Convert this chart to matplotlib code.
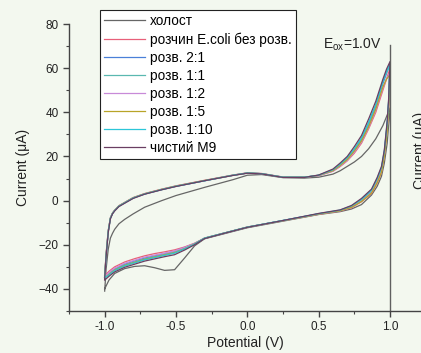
import matplotlib
matplotlib.use("Agg")
from matplotlib import pyplot as plt
from matplotlib.ticker import MultipleLocator

plt.rcParams['font.family'] = ['Liberation Sans', 'DejaVu Sans']
plt.rcParams['mathtext.fontset'] = 'custom'
plt.rcParams['mathtext.rm'] = 'Liberation Sans'

# potential (V): anodic sweep -1.0 -> 1.0, then cathodic sweep 1.0 -> -1.0
E_fwd = [-1.0, -0.99, -0.975, -0.96, -0.945, -0.93, -0.9, -0.86, -0.8, -0.72, -0.6, -0.5, -0.3, -0.1, 0.0,
         0.1, 0.25, 0.4, 0.5, 0.6, 0.65, 0.7, 0.75, 0.8, 0.85, 0.9, 0.95, 0.975, 1.0]
E_rev = [0.995, 0.99, 0.98, 0.96, 0.94, 0.91, 0.87, 0.8, 0.73, 0.65, 0.5, 0.25, 0.0, -0.15, -0.3, -0.37,
         -0.44, -0.51, -0.58, -0.65, -0.72, -0.79, -0.86, -0.93, -0.97, -1.0]
potential = E_fwd + E_rev

labels = ["холост", "розчин E.coli без розв.", "розв. 2:1", "розв. 1:1",
          "розв. 1:2", "розв. 1:5", "розв. 1:10", "чистий M9"]
colors = ["#666666", "#e8607a", "#4a80d8", "#5ab8b0", "#c88ad8", "#b8a428",
          "#2cc6d8", "#6a3e62"]

# current (uA), one list per curve, same order as potential (forward line, then reverse line)
holost = [-41, -31, -22, -17, -14.8, -13, -10.5, -8.5, -6, -3, 0, 2.3, 6, 9.5, 11.5, 11.8, 10.4, 10.2, 10.6, 12, 13.5, 15.5, 17.5, 20, 23.5, 28, 34, 38, 42,
          37, 34, 26, 17, 11, 6.5, 2.5, -1.8, -3.8, -5, -6.3, -9.3, -12.3, -14.8, -17.3, -20.5, -26, -31.3, -31.6, -30.4, -29.5, -29.8, -30.8, -33, -36, -40]
ecoli = [-34, -24, -13.5, -7.8, -5.6, -4.3, -2.3, -0.8, 1.4, 3.2, 5.2, 6.7, 9.2, 11.6, 12.6, 12.3, 10.7, 10.6, 11.3, 13.3, 15.4, 18, 21.5, 26, 32.5, 40, 50, 55, 60,
         51, 42, 33, 20, 12.8, 8, 3.2, -0.5, -3.2, -4.7, -6.2, -9.1, -12, -14.5, -17, -19.3, -21, -22.3, -23.2, -24, -25, -26.3, -27.8, -30, -32, -34]
r2_1 = [-35, -25, -14, -8, -5.8, -4.5, -2.5, -1, 1.2, 3, 5, 6.5, 9, 11.5, 12.5, 12.2, 10.6, 10.6, 11.4, 13.6, 15.8, 18.8, 22.5, 27.5, 34, 42.5, 53, 57.5, 62,
        53, 44, 34, 21.5, 14, 9, 4, 0, -2.8, -4.5, -6, -9, -12, -14.5, -17, -19.5, -21.3, -23, -24, -25, -26, -27.3, -28.8, -31, -33, -35]
r1_1 = [-35, -25, -14, -8, -5.8, -4.5, -2.5, -1, 1.2, 3, 5, 6.5, 9, 11.5, 12.5, 12.2, 10.6, 10.6, 11.5, 13.8, 16.1, 19, 23, 28, 35, 43, 54, 58, 61,
        54, 45, 35, 22, 14.5, 9.5, 4.4, 0.3, -2.6, -4.4, -6, -9, -12, -14.5, -17, -19.6, -21.6, -23.4, -24.4, -25.4, -26.4, -27.8, -29.2, -31.3, -33.3, -35]
r1_2 = [-34.5, -24.5, -13.8, -7.9, -5.7, -4.4, -2.4, -0.9, 1.3, 3.1, 5.1, 6.6, 9.1, 11.5, 12.5, 12.2, 10.6, 10.6, 11.3, 13.4, 15.6, 18.2, 22, 26.5, 33, 41, 51, 55, 58,
        50, 42, 32, 20.5, 13.2, 8.5, 3.6, -0.3, -3, -4.6, -6.1, -9.1, -12, -14.5, -17, -19.4, -21.2, -22.8, -23.8, -24.7, -25.6, -27, -28.4, -30.6, -32.6, -34.5]
r1_5 = [-34.5, -24.5, -13.8, -7.9, -5.7, -4.4, -2.4, -0.9, 1.3, 3.1, 5.1, 6.6, 9.1, 11.5, 12.5, 12.2, 10.6, 10.6, 11.4, 13.6, 15.9, 18.6, 22.5, 27, 33.5, 41.5, 51.5, 55, 57,
        49, 41, 31, 20, 12.9, 8.2, 3.4, -0.4, -3, -4.6, -6.1, -9.1, -12, -14.5, -17, -19.6, -21.8, -23.6, -24.6, -25.6, -26.6, -28, -29.4, -31.5, -33.5, -35]
r1_10 = [-35, -25, -14, -8, -5.8, -4.5, -2.5, -1, 1.2, 3, 5, 6.5, 9, 11.5, 12.5, 12.2, 10.6, 10.6, 11.5, 14, 16.5, 19.5, 23.5, 28.5, 35.5, 43.5, 54, 58.5, 62,
         54, 45, 35, 22.5, 15, 10, 4.8, 0.6, -2.4, -4.3, -5.9, -9, -12, -14.5, -17, -19.7, -21.9, -23.8, -24.8, -25.8, -26.8, -28.2, -29.6, -31.7, -33.7, -35]
m9 = [-35.5, -25.5, -14.5, -8.3, -6, -4.7, -2.7, -1.2, 1, 2.9, 4.9, 6.4, 9, 11.4, 12.4, 12.1, 10.5, 10.5, 11.6, 14.3, 17, 20, 24.5, 29.5, 37, 45, 55, 59.5, 63,
      55, 46, 36, 23, 15.5, 10.5, 5.2, 1, -2.2, -4.2, -5.8, -9, -12.1, -14.6, -17.2, -20, -22.4, -24.5, -25.4, -26.4, -27.4, -28.8, -30.2, -32.3, -34.3, -36]
currents = [holost, ecoli, r2_1, r1_1, r1_2, r1_5, r1_10, m9]

bg = "#f3f8ef"
fig = plt.figure(figsize=(4.21, 3.53), dpi=100, facecolor=bg)
ax = fig.add_axes([0.1639, 0.1190, 0.8361, 0.8130], facecolor=bg)

for lab, col, cur in zip(labels, colors, currents):
    ax.plot(potential, cur, color=col, lw=0.9, label=lab)

# E_ox marker
ax.plot([1.0, 1.0], [-50, 70.5], color="#606060", lw=1.0)
ax.text(0.53, 70.5, r"E$_{\mathregular{ox}}$=1.0V", fontsize=10, va="center", ha="left", color="#222222")

ax.set_xlim(-1.25, 1.217)
ax.set_ylim(-50, 80)
ax.xaxis.set_minor_locator(MultipleLocator(0.25))
ax.yaxis.set_major_locator(MultipleLocator(20))
ax.yaxis.set_minor_locator(MultipleLocator(10))
ax.set_xticks([-1.0, -0.5, 0.0, 0.5, 1.0])
ax.set_xticklabels(["-1.0", "-0.5", "0.0", "0.5", "1.0"])
for s in ["top", "right"]:
    ax.spines[s].set_visible(False)
for s in ["left", "bottom"]:
    ax.spines[s].set_color("#444444")
    ax.spines[s].set_linewidth(1.0)
ax.tick_params(which="major", direction="out", length=4, width=1, colors="#444444", labelsize=8.5, labelcolor="#222222")
ax.tick_params(which="minor", direction="out", length=2.5, width=0.8, colors="#444444")

ax.set_xlabel("Potential (V)", fontsize=10, color="#222222", labelpad=2)
ax.set_ylabel("Current (μA)", fontsize=10, color="#222222", labelpad=6)

leg = ax.legend(loc="upper left", bbox_to_anchor=(0.088, 1.049), borderaxespad=0,
                fontsize=9.8, frameon=True, fancybox=False, handlelength=3.0,
                handletextpad=0.4, labelspacing=0.3, borderpad=0.3)
leg.get_frame().set_edgecolor("#222222")
leg.get_frame().set_linewidth(0.8)
leg.get_frame().set_facecolor("white")
leg.get_frame().set_alpha(1)

# edge of the neighbouring panel's label
fig.text(0.981, 0.575, "Current (μA)", rotation=90, fontsize=10, ha="left", va="center", color="#222222")

fig.savefig("out.png", dpi=100, facecolor=bg)
